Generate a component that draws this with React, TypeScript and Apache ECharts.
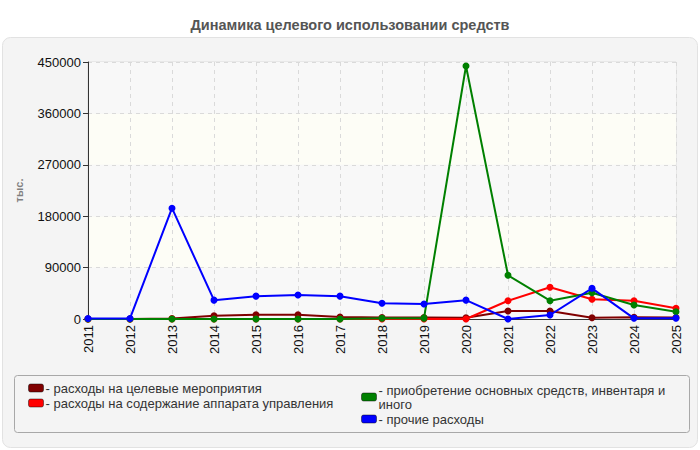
import React, { useEffect, useRef } from "react";
import * as echarts from "echarts";

const years = ["2011","2012","2013","2014","2015","2016","2017","2018","2019","2020","2021","2022","2023","2024","2025"];
const seriesNames = [
  "расходы на целевые мероприятия",
  "расходы на содержание аппарата управления",
  "приобретение основных средств, инвентаря и иного",
  "прочие расходы",
];
const targeted = [0, 0, 1000, 5800, 7500, 7500, 3500, 2500, 2500, 2000, 14000, 14000, 2300, 3000, 2500];
const admin = [0, 0, 0, 0, 0, 0, 0, 0, 0, 0, 32000, 55500, 34500, 32000, 18700];
const assets = [0, 0, 0, 0, 0, 0, 0, 1200, 1500, 443000, 76500, 32000, 46000, 24500, 12800];
const other = [1000, 1000, 194000, 33000, 40000, 42000, 40000, 27500, 26300, 33000, 0, 7000, 53700, 1200, 1500];
const colors = ["#800000", "#ff0000", "#008000", "#0000ff"];
const yTicks = [0, 90000, 180000, 270000, 360000, 450000];

export default function App() {
  const ref = useRef<HTMLDivElement>(null);
  useEffect(() => {
    if (!ref.current) return;
    const chart = echarts.init(ref.current, null, { renderer: "svg" });
    const font = "'Liberation Sans', Arial, sans-serif";
    const dataSets = [targeted, admin, assets, other];
    const legendCommon = {
      orient: "vertical",
      itemWidth: 15,
      itemHeight: 8,
      icon: "roundRect",
      itemStyle: { borderColor: "rgba(0,0,0,0.45)", borderWidth: 1 },
      selectedMode: false,
    };
    chart.setOption({
      animation: false,
      textStyle: { fontFamily: font },
      graphic: [
        {
          type: "rect",
          shape: { x: 2.5, y: 37.5, width: 695, height: 410, r: 8 },
          style: { fill: "#f4f4f4", stroke: "#e2e2e2", lineWidth: 1 },
          z: -10,
          silent: true,
        },
        {
          type: "rect",
          shape: { x: 14.5, y: 375.5, width: 675, height: 57, r: 3 },
          style: { fill: "none", stroke: "#a8a8a8", lineWidth: 1 },
          z: -5,
          silent: true,
        },
      ],
      title: {
        text: "Динамика целевого использовании средств",
        left: "center",
        top: 12,
        textStyle: { fontSize: 14.5, fontWeight: "bold", color: "#555", fontFamily: font },
      },
      legend: [
        {
          ...legendCommon,
          data: [seriesNames[0], seriesNames[1]],
          left: 23,
          top: 376,
          itemGap: 1,
          formatter: (n: string) => "- " + n,
          textStyle: { fontSize: 13, color: "#333", lineHeight: 14, fontFamily: font, padding: [0, 0, 0, -3] },
        },
        {
          ...legendCommon,
          data: [seriesNames[2], seriesNames[3]],
          left: 356,
          top: 378,
          itemGap: 1,
          formatter: (n: string) =>
            n === seriesNames[2] ? "- приобретение основных средств, инвентаря и\nиного" : "- " + n,
          textStyle: { fontSize: 13, color: "#333", lineHeight: 14, fontFamily: font, padding: [0, 0, 0, -3] },
        },
      ],
      grid: {
        left: 88,
        right: 24,
        top: 62,
        bottom: 131,
        show: true,
        backgroundColor: "transparent",
        borderColor: "#dcdcdc",
        borderWidth: 1,
      },
      xAxis: {
        type: "category",
        data: years,
        boundaryGap: false,
        axisLine: { lineStyle: { color: "#333", width: 1 } },
        axisTick: { show: false },
        axisLabel: { rotate: 90, fontSize: 13, color: "#111", margin: 6, fontFamily: font },
        splitLine: { show: true, lineStyle: { color: "#dadada", type: [4, 4] } },
      },
      yAxis: {
        type: "value",
        min: yTicks[0],
        max: yTicks[yTicks.length - 1],
        interval: yTicks[1] - yTicks[0],
        name: "тыс.",
        nameLocation: "middle",
        nameRotate: 90,
        nameGap: 64,
        nameTextStyle: { fontSize: 11, fontWeight: "bold", color: "#808080", fontFamily: font },
        axisLine: { show: true, lineStyle: { color: "#333", width: 1 } },
        axisTick: { show: true, length: 5, lineStyle: { color: "#333" } },
        axisLabel: { fontSize: 13, color: "#111", margin: 7, fontFamily: font, formatter: (v: number) => String(v) },
        splitLine: { show: true, lineStyle: { color: "#dadada", type: [4, 4] } },
        splitArea: { show: true, areaStyle: { color: ["#f8f8f8", "#fdfdf6"] } },
      },
      series: dataSets.map((d, i) => ({
        name: seriesNames[i],
        type: "line",
        data: d,
        symbol: "circle",
        symbolSize: 7,
        color: colors[i],
        lineStyle: { width: 2, color: colors[i] },
        itemStyle: { color: colors[i] },
        z: 2 + i,
      })),
    });
    return () => chart.dispose();
  }, []);
  return (
    <div
      ref={ref}
      style={{ position: "fixed", left: 0, top: 0, width: 700, height: 450, background: "#fff" }}
    />
  );
}
